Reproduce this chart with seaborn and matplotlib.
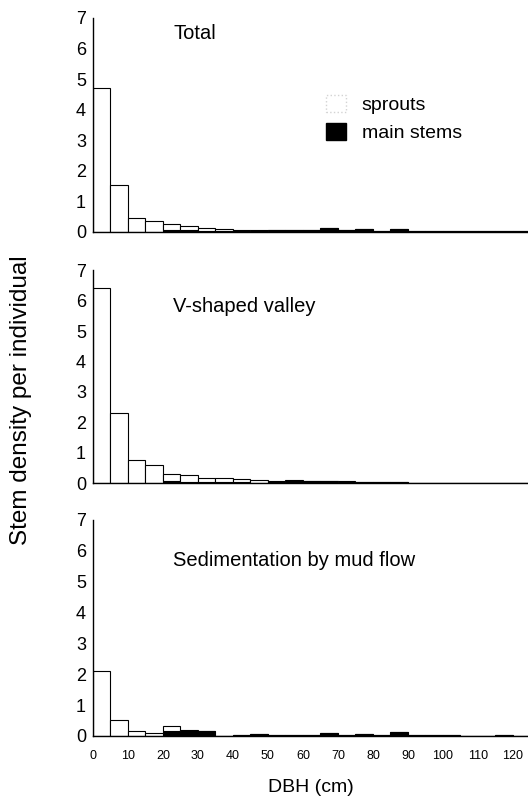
import numpy as np
import pandas as pd
import matplotlib
matplotlib.use("Agg")
import matplotlib.pyplot as plt
import seaborn as sns
from matplotlib.patches import Patch

# classes de DBH (limite inferior, cm)
bins_dbh = list(range(0, 125, 5))

# densidade por classe (total = sprouts + main stems)
total_main = [0, 0, 0, 0, 0.08, 0.07, 0.04, 0.03, 0.03, 0.04, 0.05, 0.07, 0.07,
              0.12, 0.06, 0.11, 0.04, 0.10, 0.03, 0.03, 0.02, 0.03, 0.03, 0.02, 0.02]
total_sprouts = [4.7, 1.55, 0.45, 0.35, 0.17, 0.13, 0.08, 0.07, 0.05, 0.04, 0, 0.01, 0.01,
                 0, 0, 0, 0, 0, 0, 0, 0, 0, 0, 0, 0]

valley_main = [0, 0, 0, 0, 0.06, 0.05, 0.04, 0.04, 0.03, 0.02, 0.03, 0.08, 0.06,
               0.06, 0.05, 0.05, 0.04, 0.03, 0.02, 0.02, 0.02, 0.02, 0.02, 0.01, 0.01]
valley_sprouts = [6.4, 2.3, 0.75, 0.6, 0.24, 0.22, 0.12, 0.14, 0.1, 0.08, 0.03, 0.02, 0.02,
                  0.02, 0.02, 0, 0, 0, 0, 0, 0, 0, 0, 0, 0]

mud_main = [0, 0, 0, 0, 0.15, 0.15, 0.17, 0, 0.03, 0.06, 0.03, 0.02, 0.02,
            0.1, 0.02, 0.08, 0.02, 0.12, 0.02, 0.02, 0.02, 0.01, 0.01, 0.02, 0.01]
mud_sprouts = [2.1, 0.52, 0.16, 0.1, 0.18, 0.04, 0, 0, 0, 0, 0, 0, 0,
               0, 0, 0, 0, 0, 0, 0, 0, 0, 0, 0, 0]

titles = ["Total", "V-shaped valley", "Sedimentation by mud flow"]
series = [(total_sprouts, total_main), (valley_sprouts, valley_main), (mud_sprouts, mud_main)]

plt.rcParams['font.family'] = ['Liberation Sans', 'DejaVu Sans']

fig = plt.figure(figsize=(5.28, 8.0), dpi=100)
# posições dos painéis em fração da figura
rects = [[0.176, 0.71, 0.824, 0.2675],
         [0.176, 0.396, 0.824, 0.2663],
         [0.176, 0.08, 0.824, 0.27]]
title_y = [6.5, 5.8, 5.7]

for i, (rect, title, (spr, mainst)) in enumerate(zip(rects, titles, series)):
    ax = fig.add_axes(rect)
    df = pd.DataFrame({
        'dbh': [b + 2.5 for b in bins_dbh] * 2,
        'dens': list(spr) + list(mainst),
        'tipo': ['sprouts'] * len(bins_dbh) + ['main stems'] * len(bins_dbh),
    })
    sns.histplot(data=df, x='dbh', weights='dens', hue='tipo',
                 hue_order=['sprouts', 'main stems'], multiple='stack',
                 binwidth=5, binrange=(0, 125),
                 palette={'sprouts': 'white', 'main stems': 'black'},
                 edgecolor='black', linewidth=0.8, alpha=1, legend=False, ax=ax)
    ax.set_xlim(0, 124.3)
    ax.set_ylim(0, 7)
    ax.set_yticks(range(8))
    ax.tick_params(axis='y', length=0, labelsize=13, pad=5)
    ax.set_ylabel('')
    ax.set_xlabel('')
    for s in ['top', 'right']:
        ax.spines[s].set_visible(False)
    ax.spines['left'].set_linewidth(1.0)
    ax.spines['bottom'].set_linewidth(1.0)
    ax.text(23, title_y[i], title, fontsize=14.5, va='center', ha='left')
    if i < 2:
        ax.set_xticks([])
    else:
        ax.set_xticks(range(0, 121, 10))
        ax.tick_params(axis='x', length=0, labelsize=9, pad=10)
        ax.set_xlabel('DBH (cm)', fontsize=14, labelpad=12)
    if i == 0:
        handles = [Patch(facecolor='white', edgecolor='lightgray', linestyle=':'),
                   Patch(facecolor='black', edgecolor='black')]
        ax.legend(handles, ['sprouts', 'main stems'], loc='upper left',
                  bbox_to_anchor=(0.535, 0.64), frameon=False, fontsize=14,
                  handlelength=1.05, handleheight=0.95, handletextpad=0.8,
                  labelspacing=0.45, borderpad=0, borderaxespad=0)

fig.text(0.04, 0.5, 'Stem density per individual', rotation=90,
         fontsize=17.5, va='center', ha='center')

fig.savefig('out.png', dpi=100)
